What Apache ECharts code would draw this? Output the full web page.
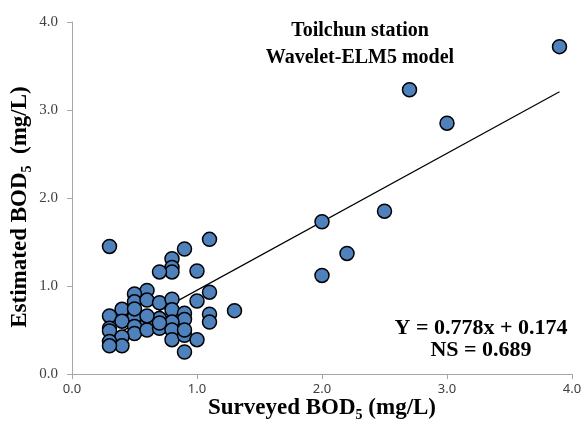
<!DOCTYPE html>
<html><head><meta charset="utf-8">
<script src="https://cdn.jsdelivr.net/npm/echarts@6/dist/echarts.min.js"></script>
<style>html,body{margin:0;padding:0;background:#fff}#c{width:587px;height:444px}</style>
</head><body><div id="c"></div>
<script>
var xTicks = ['0.0','1.0','2.0','3.0','4.0'];
var yTicks = ['0.0','1.0','2.0','3.0','4.0'];
var surveyed = [0.3,1.1,0.9,0.8,0.8,0.8,0.7,1.0,
  0.6,0.5,0.5,0.6,0.7,0.8,1.1,1.0,1.3,0.4,0.3,0.5,0.8,0.9,0.9,1.1,1.1,0.7,0.6,0.4,0.3,0.3,0.5,0.5,0.6,0.7,0.8,0.8,0.8,0.9,0.9,1.0,0.9,0.4,0.4,0.3,0.3,0.5,0.7,0.6,
  2.0,2.0,2.2,2.5,2.7,3.0,3.9];
var estimated = [1.45,1.53,1.42,1.31,1.21,1.16,1.16,1.17,
  0.95,0.91,0.82,0.84,0.81,0.85,0.93,0.83,0.72,0.735,0.66,0.65,0.73,0.69,0.62,0.68,0.59,0.63,0.57,0.60,0.52,0.49,0.54,0.46,0.50,0.52,0.59,0.50,0.39,0.44,0.50,0.39,0.25,0.42,0.32,0.37,0.32,0.74,0.58,0.66,
  1.73,1.12,1.37,1.85,3.23,2.85,3.72];
var slope = 0.778, intercept = 0.174;
var fitX = [0.3, 3.9];

var pts = surveyed.map(function(x,i){return [x, estimated[i]];});
var fit = fitX.map(function(x){return [x, slope*x+intercept];});
var serif = '"Liberation Serif","Times New Roman",serif';
var chart = echarts.init(document.getElementById('c'));
chart.setOption({
  animation:false,
  grid:{left:72,right:15,top:22,bottom:70,containLabel:false,outerBoundsMode:'none'},
  title:[
    {text:'Toilchun station\nWavelet-ELM5 model',left:355,top:12,textAlign:'center',
     textStyle:{fontFamily:serif,fontWeight:'bold',fontSize:20,lineHeight:27,color:'#000'}},
    {text:'Y = 0.778x + 0.174\nNS = 0.689',left:476,top:312,textAlign:'center',
     textStyle:{fontFamily:serif,fontWeight:'bold',fontSize:22,lineHeight:22,color:'#000'}}
  ],
  xAxis:{type:'value',min:0,max:4,interval:1,nameMoveOverlap:false,
    axisLine:{show:true,onZero:false,lineStyle:{color:'#a6a6a6',width:1}},
    axisTick:{show:true,length:5,lineStyle:{color:'#a6a6a6'}},
    splitLine:{show:false},
    axisLabel:{margin:9,color:'#404040',fontSize:13,fontFamily:'"Noto Sans",sans-serif',
      formatter:function(v){return xTicks[Math.round(v)];}},
    name:'{b|Surveyed BOD}{s|5}{b| (mg/L)}',nameLocation:'middle',nameGap:20,
    nameTextStyle:{rich:{b:{fontFamily:serif,fontWeight:'bold',fontSize:23,lineHeight:28,color:'#000'},
      s:{fontFamily:serif,fontWeight:'bold',fontSize:14,lineHeight:28,verticalAlign:'bottom',color:'#000',padding:[9,0,0,0]}}}
  },
  yAxis:{type:'value',min:0,max:4,interval:1,nameMoveOverlap:false,
    axisLine:{show:true,lineStyle:{color:'#a6a6a6',width:1}},
    axisTick:{show:true,length:5,lineStyle:{color:'#a6a6a6'}},
    splitLine:{show:false},
    axisLabel:{margin:14,color:'#404040',fontSize:15,fontFamily:serif,
      formatter:function(v){return yTicks[Math.round(v)];}},
    name:'{b|Estimated BOD}{s|5}{b|  (mg/L)}',nameLocation:'middle',nameGap:38,nameRotate:90,
    nameTextStyle:{padding:[0,18,0,0],rich:{b:{fontFamily:serif,fontWeight:'bold',fontSize:23,lineHeight:28,color:'#000'},
      s:{fontFamily:serif,fontWeight:'bold',fontSize:14,lineHeight:28,verticalAlign:'bottom',color:'#000',padding:[9,0,0,0]}}}
  },
  series:[
    {type:'line',data:fit,symbol:'none',lineStyle:{color:'#000',width:1.2},z:1},
    {type:'scatter',data:pts,symbol:'circle',symbolSize:14,
     itemStyle:{color:'#4f81bd',borderColor:'#000',borderWidth:1.5,opacity:1},z:2}
  ]
});
</script></body></html>
